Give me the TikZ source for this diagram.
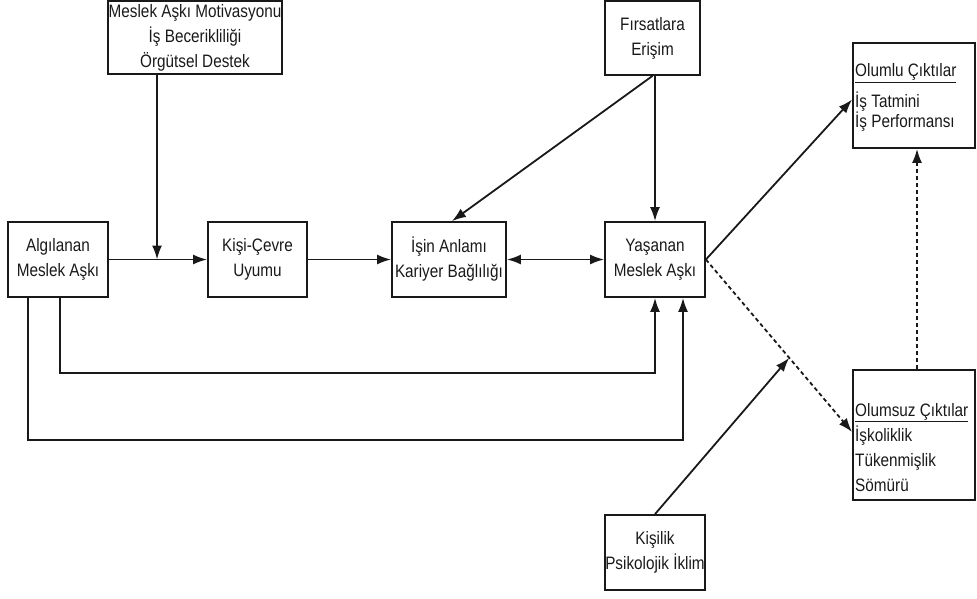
\documentclass[tikz,border=0pt]{standalone}
\usepackage{fontspec}
\setmainfont[FakeStretch=0.85]{Liberation Sans}
\usetikzlibrary{arrows.meta,calc}

\begin{document}
\begin{tikzpicture}[x=1pt, y=-1pt,
  every node/.style={font=\fontsize{18}{25}\selectfont, text=black!90},
  box/.style={draw=black!90, line width=1.8pt, align=center, inner sep=0pt, minimum height=75pt},
  outtext/.style={align=left, inner sep=0pt, anchor=north west},
  link/.style={-{Latex[length=14pt,width=10pt]}, line width=1.8pt, black!90},
  twoway/.style={{Latex[length=14pt,width=10pt]}-{Latex[length=14pt,width=10pt]}, line width=1.8pt, black!90}]
  \useasboundingbox (0,0) rectangle (977,598);

  % Boxes
  \node[box, minimum width=174pt, minimum height=73pt] (mot) at (195,37.5) {Meslek Aşkı Motivasyonu\\İş Becerikliliği\\Örgütsel Destek};
  \node[box, minimum width=95pt, minimum height=74pt] (fir) at (652.5,38) {Fırsatlara\\Erişim};
  \node[box, minimum width=100pt] (alg) at (58,259.5) {Algılanan\\Meslek Aşkı};
  \node[box, minimum width=99pt] (kce) at (257.5,259.5) {Kişi-Çevre\\Uyumu};
  \node[box, minimum width=114pt] (isa) at (449,259.5) {İşin Anlamı\\Kariyer Bağlılığı};
  \node[box, minimum width=100pt] (yas) at (655,259.5) {Yaşanan\\Meslek Aşkı};
  \node[box, minimum width=100pt] (kis) at (655,552.5) {Kişilik\\Psikolojik İklim};
  \node[box, minimum width=122pt, minimum height=105pt] (pos) at (914,95.5) {};
  \node[box, minimum width=122pt, minimum height=130pt] (neg) at (914,435) {};

  % Outcome texts
  \node[outtext] (posT) at (855,63.5) {\underline{Olumlu Çıktılar}\\[6pt]İş Tatmini\\[-5pt]İş Performansı};
  \node[outtext] (negT) at (855,403) {\underline{Olumsuz Çıktılar}\\İşkoliklik\\Tükenmişlik\\Sömürü};

  % Main path
  \coordinate (j) at ($(alg.east)!0.49!(kce.west)$);
  \draw[link] (alg.east) -- (kce.west);
  \draw[link] (mot.south -| j) -- (j);
  \draw[link] (kce.east) -- (isa.west);
  \draw[twoway] (isa.east) -- (yas.west);

  % Opportunities
  \draw[link] (fir.south -| yas.north) -- (yas.north);
  \draw[link] (fir.south) -- ([xshift=3pt]isa.north);

  % Feedback loops from perceived passion
  \draw[link] ([xshift=2pt]alg.south) -- ([xshift=2pt]alg.south |- 0,373) -| (yas.south);
  \draw[link] ([xshift=-30pt]alg.south) -- ([xshift=-30pt]alg.south |- 0,440) -| ([xshift=28pt]yas.south);

  % Outcomes
  \coordinate (nw) at ([yshift=3pt]neg.west);
  \coordinate (m) at ($(yas.east)!0.57!(nw)$);
  \draw[link] (yas.east) -- ([yshift=-4pt]pos.west);
  \draw[link, dash pattern=on 4pt off 3pt] (yas.east) -- (nw);
  \draw[link, dash pattern=on 4pt off 3pt] ([xshift=3pt]neg.north) -- ([xshift=3pt]pos.south);
  \draw[link] (kis.north) -- (m);
\end{tikzpicture}
\end{document}
